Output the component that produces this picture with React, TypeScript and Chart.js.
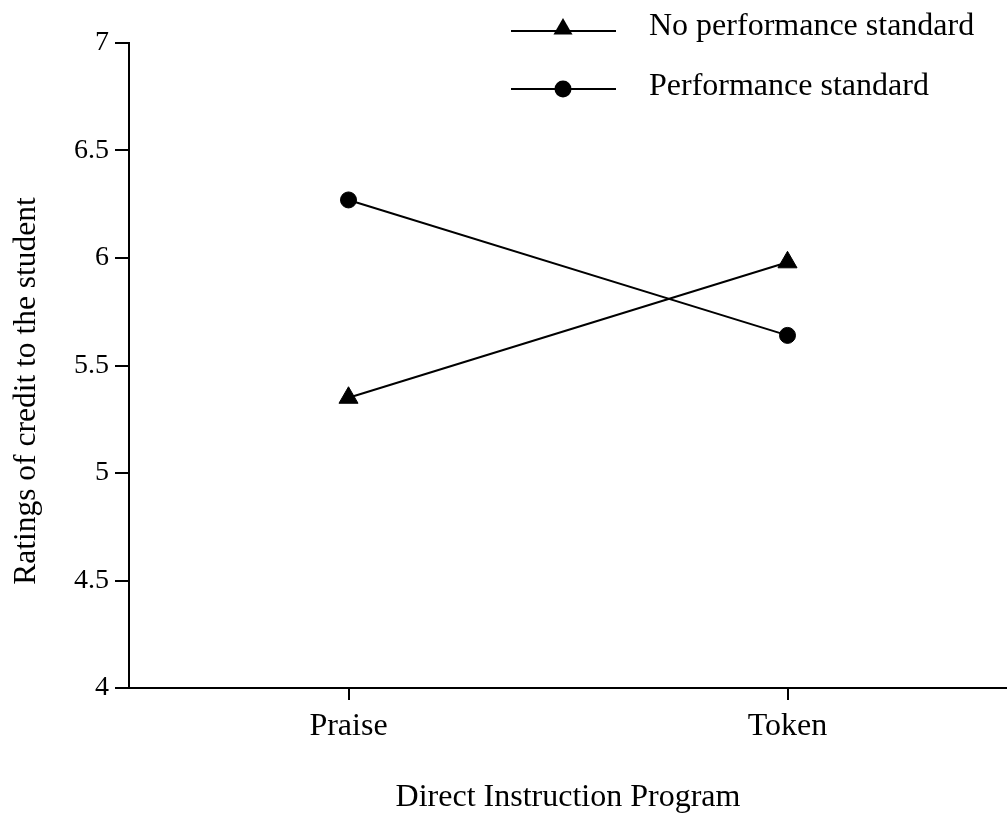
import React, { useEffect, useRef } from "react";
import { Chart, registerables } from "chart.js";

Chart.register(...registerables);

const categories = ["Praise", "Token"];
const noStandard = [5.35, 5.98];
const standard = [6.27, 5.64];
const seriesLabels = ["No performance standard", "Performance standard"];
const yTitle = "Ratings of credit to the student";
const xTitle = "Direct Instruction Program";

const FONT = "'Liberation Serif', 'Times New Roman', serif";

const overlayPlugin = {
  id: "overlay",
  afterDraw(chart: any) {
    const ctx = chart.ctx as CanvasRenderingContext2D;
    ctx.save();
    ctx.fillStyle = "#000";
    ctx.font = `31.5px ${FONT}`;
    ctx.textAlign = "center";
    ctx.textBaseline = "middle";
    ctx.translate(27, 391);
    ctx.rotate(-Math.PI / 2);
    ctx.fillText(yTitle, 0, 0);
    ctx.restore();

    ctx.save();
    ctx.strokeStyle = "#000";
    ctx.fillStyle = "#000";
    ctx.lineWidth = 2;
    const rows = [
      { y: 31, text: seriesLabels[0], base: 35, marker: "triangle" },
      { y: 89, text: seriesLabels[1], base: 95, marker: "circle" },
    ];
    for (const r of rows) {
      ctx.beginPath();
      ctx.moveTo(511, r.y);
      ctx.lineTo(616, r.y);
      ctx.stroke();
      ctx.beginPath();
      if (r.marker === "triangle") {
        const rad = 11;
        const cx = 563;
        const cy = r.y - 2;
        for (let k = 0; k < 3; k++) {
          const a = (k * 2 * Math.PI) / 3;
          const px = cx + Math.sin(a) * rad;
          const py = cy - Math.cos(a) * rad;
          if (k === 0) ctx.moveTo(px, py);
          else ctx.lineTo(px, py);
        }
        ctx.closePath();
      } else {
        ctx.arc(563, r.y, 8.5, 0, Math.PI * 2);
      }
      ctx.fill();
      ctx.font = `32px ${FONT}`;
      ctx.textAlign = "left";
      ctx.textBaseline = "alphabetic";
      ctx.fillText(r.text, 649, r.base);
    }
    ctx.restore();
  },
};

export default function App() {
  const ref = useRef<HTMLCanvasElement>(null);
  useEffect(() => {
    if (!ref.current) return;
    const chart = new Chart(ref.current, {
      type: "line",
      data: {
        labels: categories,
        datasets: [
          {
            label: seriesLabels[0],
            data: noStandard,
            borderColor: "#000",
            backgroundColor: "#000",
            borderWidth: 2,
            pointStyle: "triangle",
            pointRadius: 11,
            pointBorderWidth: 1,
            pointBackgroundColor: "#000",
            pointBorderColor: "#000",
            tension: 0,
          },
          {
            label: seriesLabels[1],
            data: standard,
            borderColor: "#000",
            backgroundColor: "#000",
            borderWidth: 2,
            pointStyle: "circle",
            pointRadius: 8,
            pointBorderWidth: 1,
            pointBackgroundColor: "#000",
            pointBorderColor: "#000",
            tension: 0,
          },
        ],
      },
      options: {
        responsive: false,
        animation: false,
        layout: { autoPadding: false, padding: { left: 0, top: 43, right: 0, bottom: 0 } },
        plugins: {
          legend: { display: false },
          tooltip: { enabled: false },
          title: { display: false },
        },
        scales: {
          x: {
            type: "category",
            offset: true,
            afterFit: (s: any) => {
              s.height = 128;
            },
            grid: {
              display: true,
              drawOnChartArea: false,
              drawTicks: true,
              tickLength: 12,
              color: "#000",
              lineWidth: 2,
            },
            border: { display: true, color: "#000", width: 2 },
            ticks: {
              color: "#000",
              font: { family: FONT, size: 32 },
              padding: 7,
              maxRotation: 0,
            },
            title: {
              display: true,
              text: xTitle,
              color: "#000",
              font: { family: FONT, size: 32 },
              padding: { top: 0, bottom: -1 },
            },
          },
          y: {
            min: 4,
            max: 7,
            afterFit: (s: any) => {
              s.width = 129;
            },
            grid: {
              display: true,
              drawOnChartArea: false,
              drawTicks: true,
              tickLength: 14,
              color: "#000",
              lineWidth: 2,
            },
            border: { display: true, color: "#000", width: 2 },
            ticks: {
              stepSize: 0.5,
              color: "#000",
              font: { family: FONT, size: 28 },
              padding: 6,
              callback: (v: any) => String(Number(v)),
            },
          },
        },
      },
      plugins: [overlayPlugin],
    });
    return () => chart.destroy();
  }, []);
  return (
    <div style={{ position: "absolute", left: 0, top: 0, width: 1007, height: 816, background: "#fff" }}>
      <canvas ref={ref} width={1007} height={816} />
    </div>
  );
}
